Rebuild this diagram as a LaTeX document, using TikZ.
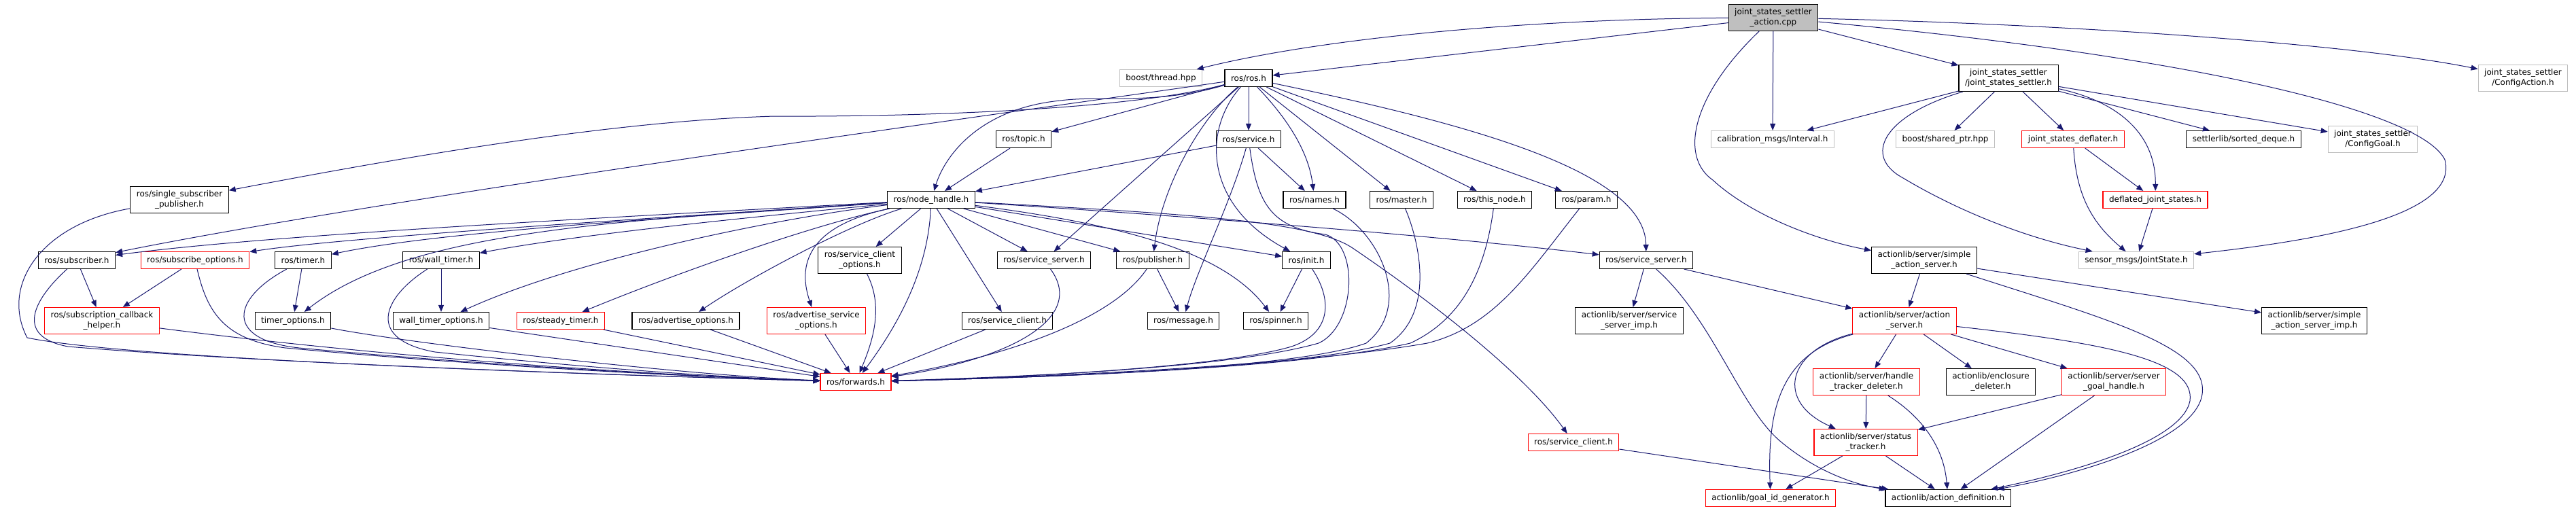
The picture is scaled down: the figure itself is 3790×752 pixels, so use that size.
\documentclass[tikz,border=0pt]{standalone}
\usepackage{fontspec}
\setmainfont{DejaVu Sans}
\usetikzlibrary{arrows.meta}
\definecolor{edgeblue}{HTML}{191970}
\definecolor{boxgray}{HTML}{BFBFBF}

\begin{document}
\begin{tikzpicture}[x=1pt, y=-1pt,
  every node/.style={font=\fontsize{12}{15}\selectfont, align=center, inner xsep=9pt, inner ysep=6pt, minimum height=25pt, line width=1.1pt},
  hfile/.style={draw=black},
  redfile/.style={draw=red},
  grayfile/.style={draw=boxgray},
  mainfile/.style={draw=black, fill=boxgray},
  inc/.style={draw=edgeblue, line width=1pt, -{Triangle[length=10pt,width=8pt]}}]
\def\ya{26}
\def\yb{115}
\def\yc{205}
\def\yd{294}
\def\ye{383}
\def\yf{472}
\def\yg{562}
\def\yh{651}
\def\yi{733}

\useasboundingbox (0,0) rectangle (3790,752);

% files, row by row
\node[mainfile] (main) at (2609,\ya) {joint\_states\_settler\\\_action.cpp};
\node[grayfile] (bthread) at (1708,\yb) {boost/thread.hpp};
\node[hfile] (ros) at (1837,\yb) {ros/ros.h};
\node[hfile] (settler) at (2955,\yb) {joint\_states\_settler\\/joint\_states\_settler.h};
\node[grayfile] (cfgaction) at (3712,\yb) {joint\_states\_settler\\/ConfigAction.h};
\node[hfile] (topic) at (1506,\yc) {ros/topic.h};
\node[hfile] (service) at (1837,\yc) {ros/service.h};
\node[grayfile] (interval) at (2608,\yc) {calibration\_msgs/Interval.h};
\node[grayfile] (sharedptr) at (2862,\yc) {boost/shared\_ptr.hpp};
\node[redfile] (deflater) at (3050,\yc) {joint\_states\_deflater.h};
\node[hfile] (deque) at (3301,\yc) {settlerlib/sorted\_deque.h};
\node[grayfile] (cfggoal) at (3491,\yc) {joint\_states\_settler\\/ConfigGoal.h};
\node[hfile] (single) at (264,\yd) {ros/single\_subscriber\\\_publisher.h};
\node[hfile] (nh) at (1370,\yd) {ros/node\_handle.h};
\node[hfile] (names) at (1934,\yd) {ros/names.h};
\node[hfile] (master) at (2062,\yd) {ros/master.h};
\node[hfile] (thisnode) at (2199,\yd) {ros/this\_node.h};
\node[hfile] (param) at (2334,\yd) {ros/param.h};
\node[redfile] (deflated) at (3171,\yd) {deflated\_joint\_states.h};
\node[hfile] (sub) at (113,\ye) {ros/subscriber.h};
\node[redfile] (subopt) at (287,\ye) {ros/subscribe\_options.h};
\node[hfile] (timer) at (446,\ye) {ros/timer.h};
\node[hfile] (wtimer) at (649,\ye) {ros/wall\_timer.h};
\node[hfile] (sclopt) at (1265,\ye) {ros/service\_client\\\_options.h};
\node[hfile] (ssrv) at (1536,\ye) {ros/service\_server.h};
\node[hfile] (pub) at (1696,\ye) {ros/publisher.h};
\node[hfile] (init) at (1922,\ye) {ros/init.h};
\node[hfile] (ssrvb) at (2422,\ye) {ros/service\_server.h};
\node[hfile] (simple) at (2831,\ye) {actionlib/server/simple\\\_action\_server.h};
\node[grayfile] (jstate) at (3143,\ye) {sensor\_msgs/JointState.h};
\node[redfile] (cbhelper) at (150,\yf) {ros/subscription\_callback\\\_helper.h};
\node[hfile] (topt) at (431,\yf) {timer\_options.h};
\node[hfile] (wtopt) at (649,\yf) {wall\_timer\_options.h};
\node[redfile] (steady) at (825,\yf) {ros/steady\_timer.h};
\node[hfile] (advopt) at (1009,\yf) {ros/advertise\_options.h};
\node[redfile] (advsrv) at (1201,\yf) {ros/advertise\_service\\\_options.h};
\node[hfile] (scl) at (1482,\yf) {ros/service\_client.h};
\node[hfile] (msg) at (1741,\yf) {ros/message.h};
\node[hfile] (spin) at (1877,\yf) {ros/spinner.h};
\node[hfile] (srvimp) at (2397,\yf) {actionlib/server/service\\\_server\_imp.h};
\node[redfile] (aserver) at (2802,\yf) {actionlib/server/action\\\_server.h};
\node[hfile] (simpimp) at (3405,\yf) {actionlib/server/simple\\\_action\_server\_imp.h};
\node[redfile] (fwd) at (1259,\yg) {ros/forwards.h};
\node[redfile] (htrack) at (2746,\yg) {actionlib/server/handle\\\_tracker\_deleter.h};
\node[hfile] (encl) at (2929,\yg) {actionlib/enclosure\\\_deleter.h};
\node[redfile] (sgoal) at (3110,\yg) {actionlib/server/server\\\_goal\_handle.h};
\node[redfile] (sclb) at (2315,\yh) {ros/service\_client.h};
\node[redfile] (status) at (2745,\yh) {actionlib/server/status\\\_tracker.h};
\node[redfile] (goalid) at (2605,\yi) {actionlib/goal\_id\_generator.h};
\node[hfile] (adef) at (2866,\yi) {actionlib/action\_definition.h};

% includes of the .cpp
\draw[inc] (main) .. controls (2250,28) and (1950,55) .. (bthread);
\draw[inc] (main) -- (ros);
\draw[inc] (main) -- (interval);
\draw[inc] (main) -- (settler);
\draw[inc] (main) .. controls (3000,34) and (3450,62) .. (cfgaction);
\draw[inc] (main) .. controls (3200,80) and (3560,160) .. (3597,235) .. controls (3620,320) and (3400,355) .. (jstate);
\draw[inc] (main) .. controls (2490,140) and (2470,230) .. (2520,265) .. controls (2580,320) and (2680,355) .. (simple);

% settler
\draw[inc] (settler) -- (interval);
\draw[inc] (settler) -- (sharedptr);
\draw[inc] (settler) -- (deflater);
\draw[inc] (settler) -- (deque);
\draw[inc] (settler) -- (cfggoal);
\draw[inc] (settler) .. controls (3120,150) and (3172,200) .. (deflated);
\draw[inc] (settler) .. controls (2770,170) and (2740,230) .. (2800,262) .. controls (2880,310) and (2980,350) .. (jstate);
\draw[inc] (deflater) -- (deflated);
\draw[inc] (deflater) .. controls (3055,290) and (3080,330) .. (jstate);
\draw[inc] (deflated) -- (jstate);

% ros.h
\draw[inc] (ros) -- (topic);
\draw[inc] (ros) -- (service);
\draw[inc] (ros) .. controls (1700,155) and (1620,140) .. (1560,148) .. controls (1440,160) and (1390,230) .. (nh);
\draw[inc] (ros) .. controls (1650,165) and (1300,172) .. (1140,171) .. controls (900,178) and (600,230) .. (single);
\draw[inc] (ros) .. controls (1600,150) and (600,285) .. (sub);
\draw[inc] (ros) -- (ssrv);
\draw[inc] (ros) .. controls (1770,170) and (1710,270) .. (pub);
\draw[inc] (ros) .. controls (1770,190) and (1770,300) .. (init);
\draw[inc] (ros) .. controls (1890,170) and (1925,220) .. (names);
\draw[inc] (ros) -- (master);
\draw[inc] (ros) -- (thisnode);
\draw[inc] (ros) -- (param);
\draw[inc] (ros) .. controls (2150,180) and (2420,250) .. (ssrvb);

% service.h and the ros headers on its row
\draw[inc] (topic) -- (nh);
\draw[inc] (service) -- (nh);
\draw[inc] (service) -- (names);
\draw[inc] (service) .. controls (1810,300) and (1760,400) .. (msg);
\draw[inc] (service) .. controls (1850,300) and (1870,335) .. (1950,345) .. controls (2000,360) and (1995,480) .. (1940,505) .. controls (1800,545) and (1450,556) .. (fwd);
\draw[inc] (names) .. controls (2030,340) and (2080,450) .. (2010,505) .. controls (1900,545) and (1500,556) .. (fwd);
\draw[inc] (master) .. controls (2090,360) and (2110,460) .. (2045,505) .. controls (1900,545) and (1500,556) .. (fwd);
\draw[inc] (thisnode) .. controls (2185,400) and (2150,470) .. (2075,505) .. controls (1900,545) and (1500,556) .. (fwd);
\draw[inc] (param) .. controls (2250,400) and (2200,480) .. (2100,505) .. controls (1900,540) and (1500,556) .. (fwd);
\draw[inc] (init) -- (spin);
\draw[inc] (init) .. controls (1960,440) and (1960,490) .. (1900,510) .. controls (1800,540) and (1500,556) .. (fwd);

% node_handle.h
\draw[inc] (nh) .. controls (900,320) and (400,345) .. (sub);
\draw[inc] (nh) .. controls (900,325) and (500,350) .. (subopt);
\draw[inc] (nh) .. controls (1000,320) and (650,340) .. (timer);
\draw[inc] (nh) .. controls (1100,320) and (850,345) .. (wtimer);
\draw[inc] (nh) .. controls (900,325) and (600,340) .. (topt);
\draw[inc] (nh) .. controls (1150,320) and (850,380) .. (wtopt);
\draw[inc] (nh) .. controls (1200,330) and (1000,400) .. (steady);
\draw[inc] (nh) .. controls (1250,330) and (1100,410) .. (advopt);
\draw[inc] (nh) .. controls (1200,330) and (1170,380) .. (advsrv);
\draw[inc] (nh) -- (sclopt);
\draw[inc] (nh) .. controls (1365,400) and (1320,480) .. (fwd);
\draw[inc] (nh) -- (scl);
\draw[inc] (nh) -- (ssrv);
\draw[inc] (nh) -- (pub);
\draw[inc] (nh) -- (init);
\draw[inc] (nh) .. controls (1650,330) and (1800,370) .. (spin);
\draw[inc] (nh) .. controls (1700,315) and (2100,345) .. (ssrvb);
\draw[inc] (nh) .. controls (1750,315) and (1930,325) .. (1990,365) .. controls (2130,460) and (2250,560) .. (sclb);

% left headers down to forwards.h
\draw[inc] (single) .. controls (60,330) and (0,420) .. (40,497) .. controls (200,530) and (900,552) .. (fwd);
\draw[inc] (sub) -- (cbhelper);
\draw[inc] (sub) .. controls (50,440) and (20,495) .. (100,510) .. controls (400,535) and (900,552) .. (fwd);
\draw[inc] (subopt) -- (cbhelper);
\draw[inc] (subopt) .. controls (305,460) and (330,500) .. (420,512) .. controls (700,538) and (1000,554) .. (fwd);
\draw[inc] (cbhelper) .. controls (600,530) and (1000,554) .. (fwd);
\draw[inc] (timer) -- (topt);
\draw[inc] (timer) .. controls (340,440) and (330,500) .. (440,512) .. controls (700,536) and (1000,554) .. (fwd);
\draw[inc] (wtimer) -- (wtopt);
\draw[inc] (wtimer) .. controls (560,440) and (540,500) .. (640,518) .. controls (850,540) and (1050,555) .. (fwd);
\draw[inc] (topt) .. controls (600,505) and (1000,552) .. (fwd);
\draw[inc] (wtopt) -- (fwd);
\draw[inc] (steady) -- (fwd);
\draw[inc] (advopt) -- (fwd);
\draw[inc] (advsrv) -- (fwd);
\draw[inc] (sclopt) .. controls (1300,450) and (1285,500) .. (fwd);
\draw[inc] (scl) -- (fwd);
\draw[inc] (ssrv) .. controls (1600,470) and (1480,530) .. (fwd);
\draw[inc] (pub) .. controls (1630,480) and (1450,530) .. (fwd);
\draw[inc] (pub) -- (msg);

% actionlib
\draw[inc] (simple) -- (aserver);
\draw[inc] (simple) -- (simpimp);
\draw[inc] (simple) .. controls (3100,470) and (3250,510) .. (3240,580) .. controls (3230,650) and (3050,700) .. (adef);
\draw[inc] (ssrvb) -- (srvimp);
\draw[inc] (ssrvb) -- (aserver);
\draw[inc] (ssrvb) .. controls (2520,470) and (2560,600) .. (2620,650) .. controls (2680,700) and (2740,715) .. (adef);
\draw[inc] (sclb) -- (adef);
\draw[inc] (aserver) -- (htrack);
\draw[inc] (aserver) -- (encl);
\draw[inc] (aserver) -- (sgoal);
\draw[inc] (aserver) .. controls (2630,515) and (2610,590) .. (status);
\draw[inc] (aserver) .. controls (2620,520) and (2600,600) .. (goalid);
\draw[inc] (aserver) .. controls (3100,505) and (3230,530) .. (3222,590) .. controls (3210,650) and (3050,695) .. (adef);
\draw[inc] (htrack) -- (status);
\draw[inc] (htrack) .. controls (2830,615) and (2860,660) .. (adef);
\draw[inc] (sgoal) -- (status);
\draw[inc] (sgoal) -- (adef);
\draw[inc] (status) -- (goalid);
\draw[inc] (status) -- (adef);

\end{tikzpicture}
\end{document}
